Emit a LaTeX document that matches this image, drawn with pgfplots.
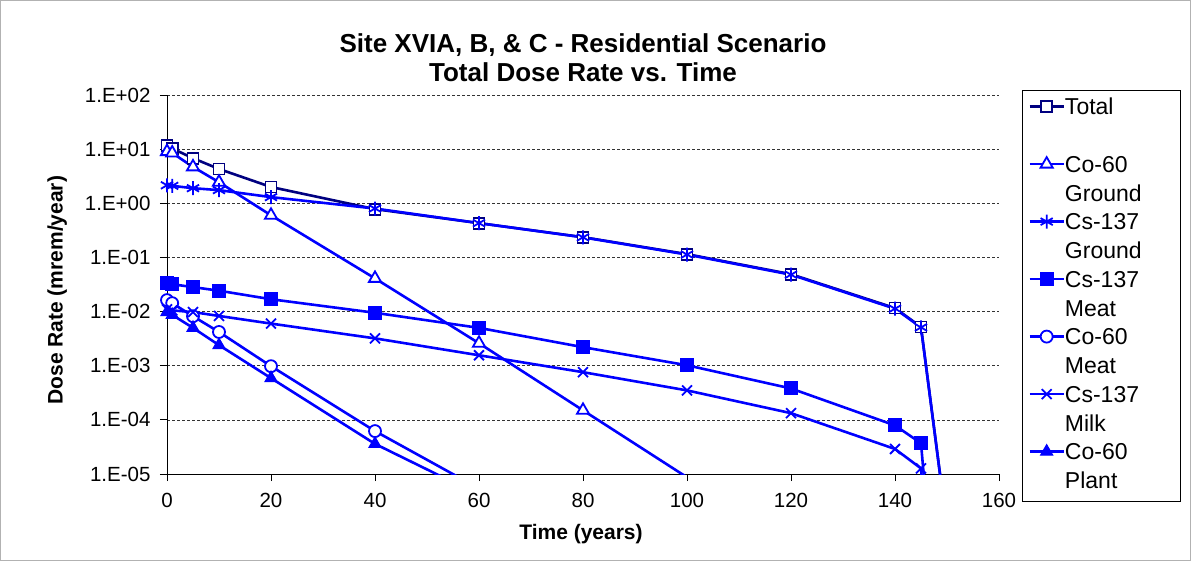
\documentclass[border=0pt]{standalone}
\usepackage{fontspec}
\setmainfont{Liberation Sans}
\usepackage{pgfplots}
\pgfplotsset{compat=1.18}
\definecolor{navy}{RGB}{0,0,128}
\definecolor{xlblue}{RGB}{0,0,255}
\newcommand{\lentry}[2]{\begin{tabular}[t]{@{}p{109pt}@{}}#1\\#2\end{tabular}}

\begin{document}
\begin{tikzpicture}
\useasboundingbox (0pt,0pt) rectangle (1191pt,563pt);
\draw[gray!60, line width=1pt] (0.5pt,2.5pt) rectangle (1190.5pt,562.5pt);
\begin{axis}[
 at={(167pt,89pt)}, anchor=south west,
 scale only axis, width=832pt, height=379pt,
 xmin=0, xmax=160, ymode=log, ymin=1e-5, ymax=1e2,
 axis x line*=bottom, axis y line*=left,
 axis line style={black, line width=0.8pt, -},
 tick align=outside, major tick length=7pt,
 tick style={black, line width=0.8pt},
 xtick={0,20,40,60,80,100,120,140,160},
 xticklabels={0,20,40,60,80,100,120,140,160},
 ytick={1e-5,1e-4,1e-3,1e-2,1e-1,1,1e1,1e2},
 yticklabels={1.E-05,1.E-04,1.E-03,1.E-02,1.E-01,1.E+00,1.E+01,1.E+02},
 yminorticks=false,
 ymajorgrids, major grid style={black!80, dash pattern=on 3pt off 2pt, line width=0.7pt},
 ticklabel style={font=\fontsize{20.5}{24}\selectfont},
 yticklabel style={xshift=-6pt},
 xticklabel style={yshift=-9pt},
 title={Site XVIA, B, \& C - Residential Scenario\\Total Dose Rate vs. Time},
 title style={at={(0.5,1.083)}, anchor=center, align=center, font=\bfseries\fontsize{26}{29}\selectfont},
 xlabel={Time (years)}, ylabel={Dose Rate (mrem/year)},
 every axis x label/.style={at={(0.4976,-0.1586)}, anchor=center, font=\bfseries\fontsize{21}{25}\selectfont},
 every axis y label/.style={at={(-0.132,0.485)}, anchor=center, rotate=90, font=\bfseries\fontsize{21}{25}\selectfont},
 legend style={at={(1.0276,1.0132)}, anchor=north west, draw=black, line width=0.8pt,
   font=\fontsize{23}{28.9}\selectfont, cells={anchor=base west}, row sep=0pt,
   inner xsep=6pt, inner ysep=4pt, nodes={inner sep=0pt, text depth=37.3pt, text height=20.2pt}},
 legend image code/.code={\draw[mark repeat=2,mark phase=2] plot coordinates {(0pt,8pt) (17pt,8pt) (34pt,8pt)};},
 clip=true,
]
\addplot[color=navy, line width=2.6pt, mark=square*, mark size=5.5pt, mark options={fill=white, draw=navy, line width=1.8pt}]
 coordinates {(0,11.5)(1,10.3)(5,6.8)(10,4.3)(20,2.0)(40,0.78)(60,0.43)(80,0.237)(100,0.115)(120,0.049)(140,0.0116)(145,0.0052)(150,1e-6)};
\addlegendentry{\lentry{Total}{\mbox{}}}
\addplot[color=xlblue, line width=2.6pt, mark=triangle*, mark size=7pt, mark options={fill=white, line width=1.8pt}]
 coordinates {(0,9.0)(1,8.5)(5,4.7)(10,2.45)(20,0.6)(40,0.041)(60,0.0026)(80,1.5e-4)(100,8.7e-6)(120,5e-7)};
\addlegendentry{\lentry{Co-60}{Ground}}
\addplot[color=xlblue, line width=2.6pt, mark=asterisk, mark size=7pt, mark options={line width=1.8pt}]
 coordinates {(0,2.15)(1,2.1)(5,1.9)(10,1.75)(20,1.3)(40,0.8)(60,0.43)(80,0.235)(100,0.113)(120,0.048)(140,0.0113)(145,0.0051)(150,1e-6)};
\addlegendentry{\lentry{Cs-137}{Ground}}
\addplot[color=xlblue, line width=2.6pt, mark=square*, mark size=6.5pt, mark options={fill=xlblue, line width=1pt}]
 coordinates {(0,0.0335)(1,0.032)(5,0.0283)(10,0.0243)(20,0.0169)(40,0.0095)(60,0.0050)(80,0.0022)(100,0.00102)(120,3.8e-4)(140,7.9e-5)(145,3.7e-5)(150,1e-10)};
\addlegendentry{\lentry{Cs-137}{Meat}}
\addplot[color=xlblue, line width=2.6pt, mark=*, mark size=6pt, mark options={fill=white, line width=1.8pt}]
 coordinates {(0,0.0163)(1,0.0143)(5,0.0082)(10,0.0042)(20,0.00098)(40,6.2e-5)(60,5.4e-6)};
\addlegendentry{\lentry{Co-60}{Meat}}
\addplot[color=xlblue, line width=2.6pt, mark=x, mark size=7pt, mark options={line width=1.8pt}]
 coordinates {(0,0.011)(1,0.0105)(5,0.0098)(10,0.0083)(20,0.006)(40,0.0032)(60,0.00156)(80,7.6e-4)(100,3.5e-4)(120,1.33e-4)(140,2.9e-5)(145,1.27e-5)(150,1e-11)};
\addlegendentry{\lentry{Cs-137}{Milk}}
\addplot[color=xlblue, line width=2.6pt, mark=triangle*, mark size=7pt, mark options={fill=xlblue, line width=1pt}]
 coordinates {(0,0.0098)(1,0.0087)(5,0.005)(10,0.0024)(20,5.9e-4)(40,3.6e-5)(60,4.1e-6)};
\addlegendentry{\lentry{Co-60}{Plant}}
\end{axis}
\end{tikzpicture}
\end{document}
